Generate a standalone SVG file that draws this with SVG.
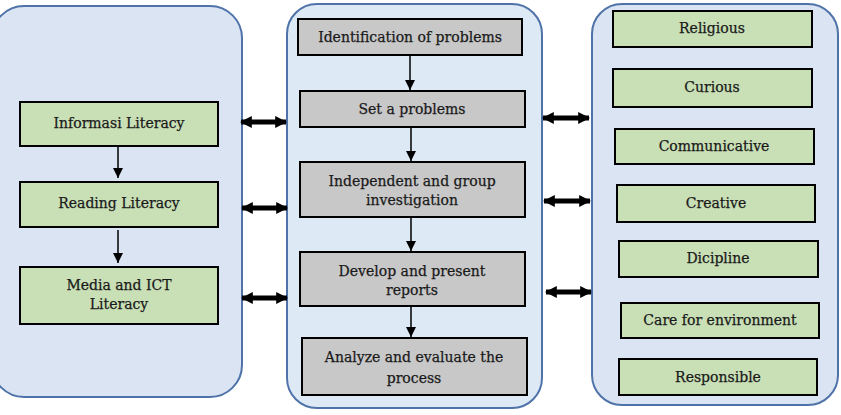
<svg xmlns="http://www.w3.org/2000/svg" width="841" height="415" viewBox="0 0 841 415">
<defs>
<style>
.panel{fill:#dae4f2;stroke:#4f73a8;stroke-width:2}
.g{fill:#c9e0b6;stroke:#000;stroke-width:2}
.k{fill:#c8c8c8;stroke:#000;stroke-width:2}
text{font-family:'DejaVu Serif','Liberation Serif',serif;font-size:14px;fill:#1a1a1a;stroke:#1a1a1a;stroke-width:0.25;text-anchor:middle}
.ln{stroke:#000;stroke-width:1.5;fill:none}
.dl{stroke:#000;stroke-width:5;fill:none}
</style>
<marker id="ah" viewBox="0 0 10 10" refX="10" refY="5" markerWidth="11" markerHeight="10" markerUnits="userSpaceOnUse" orient="auto"><path d="M0,0 L10,5 L0,10 z" fill="#000"/></marker>
<marker id="dh" viewBox="0 0 10 10" refX="9" refY="5" markerWidth="12" markerHeight="15" markerUnits="userSpaceOnUse" orient="auto-start-reverse"><path d="M0,0 L10,5 L0,10 z" fill="#000"/></marker>
</defs>
<rect width="841" height="415" fill="#fff"/>
<g id="panel-left"><rect class="panel" x="-8" y="6" width="250" height="391" rx="32"/></g>
<g id="panel-middle"><rect class="panel" x="287" y="4" width="255" height="404" rx="30" style="fill:#dee9f6"/></g>
<g id="panel-right"><rect class="panel" x="592" y="4" width="246" height="401" rx="30"/></g>

<g id="n-informasi"><rect class="g" x="20" y="102" width="198" height="44"/><text x="119" y="128">Informasi Literacy</text></g>
<g id="n-reading"><rect class="g" x="20" y="182" width="198" height="45"/><text x="119" y="208">Reading Literacy</text></g>
<g id="n-media"><rect class="g" x="20" y="267" width="198" height="57"/><text x="119" y="290">Media and ICT</text><text x="119" y="309">Literacy</text></g>

<g id="n-ident"><rect class="k" x="298" y="19" width="224" height="36"/><text x="410" y="42">Identification of problems</text></g>
<g id="n-set"><rect class="k" x="300" y="91" width="225" height="36"/><text x="412" y="114">Set a problems</text></g>
<g id="n-indep"><rect class="k" x="300" y="162" width="225" height="55"/><text x="412" y="186">Independent and group</text><text x="412" y="205">investigation</text></g>
<g id="n-develop"><rect class="k" x="300" y="252" width="225" height="54"/><text x="412" y="276">Develop and present</text><text x="412" y="295">reports</text></g>
<g id="n-analyze"><rect class="k" x="302" y="338" width="225" height="57"/><text x="414" y="362">Analyze and evaluate the</text><text x="414" y="383">process</text></g>

<g id="n-religious"><rect class="g" x="613" y="11" width="199" height="36"/><text x="712" y="33">Religious</text></g>
<g id="n-curious"><rect class="g" x="613" y="69" width="199" height="38"/><text x="712" y="92">Curious</text></g>
<g id="n-communicative"><rect class="g" x="615" y="129" width="199" height="35"/><text x="714" y="151">Communicative</text></g>
<g id="n-creative"><rect class="g" x="617" y="185" width="198" height="37"/><text x="716" y="208">Creative</text></g>
<g id="n-dicipline"><rect class="g" x="619" y="241" width="199" height="36"/><text x="718" y="263">Dicipline</text></g>
<g id="n-care"><rect class="g" x="621" y="303" width="198" height="35"/><text x="720" y="325">Care for environment</text></g>
<g id="n-responsible"><rect class="g" x="619" y="359" width="198" height="36"/><text x="718" y="382">Responsible</text></g>

<g id="connectors">
<path class="ln" d="M118,147 V178" marker-end="url(#ah)"/>
<path class="ln" d="M118,230 V263" marker-end="url(#ah)"/>
<path class="ln" d="M410,56 V90" marker-end="url(#ah)"/>
<path class="ln" d="M411,128 V161" marker-end="url(#ah)"/>
<path class="ln" d="M411,218 V251" marker-end="url(#ah)"/>
<path class="ln" d="M411,307 V337" marker-end="url(#ah)"/>
<path class="dl" d="M241,122 H286" marker-start="url(#dh)" marker-end="url(#dh)"/>
<path class="dl" d="M242,208 H287" marker-start="url(#dh)" marker-end="url(#dh)"/>
<path class="dl" d="M242,298 H287" marker-start="url(#dh)" marker-end="url(#dh)"/>
<path class="dl" d="M543,118 H589" marker-start="url(#dh)" marker-end="url(#dh)"/>
<path class="dl" d="M544,201 H590" marker-start="url(#dh)" marker-end="url(#dh)"/>
<path class="dl" d="M546,292 H591" marker-start="url(#dh)" marker-end="url(#dh)"/>
</g>
</svg>
